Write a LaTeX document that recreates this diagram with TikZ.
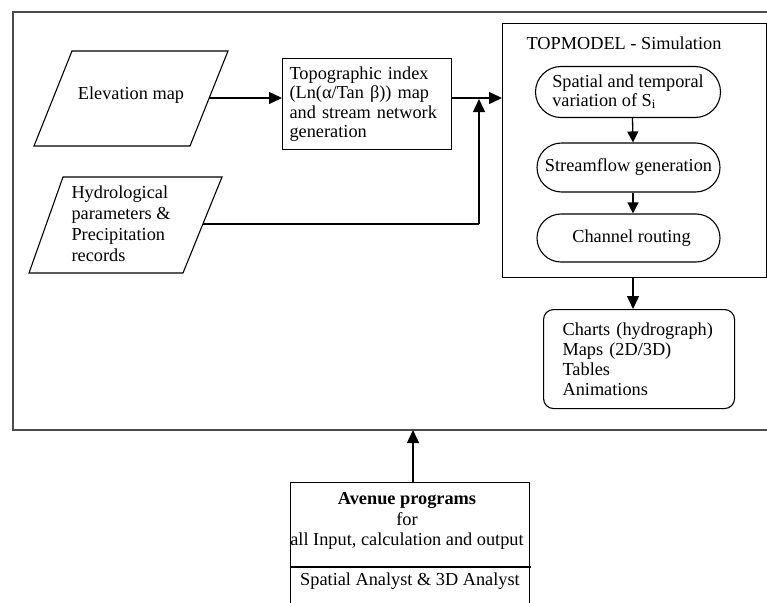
\documentclass[tikz,border=0pt]{standalone}
\usepackage{fontspec}
\setmainfont{Liberation Serif}
\usetikzlibrary{arrows.meta,shapes.misc,calc}
\begin{document}
\begin{tikzpicture}[x=1pt,y=-1pt,
  font=\fontsize{18.3}{18.5}\selectfont,
  framestyle/.style={draw=black!70, line width=1.6pt},
  box/.style={draw, line width=1.1pt},
  stad/.style={draw, line width=1.1pt, rounded rectangle, inner sep=0pt, align=left},
  conn/.style={line width=1.4pt, -{Triangle[length=13pt,width=12pt]}},
  sconn/.style={line width=1.3pt, -{Triangle[length=11pt,width=11pt]}},
  plain/.style={line width=1.4pt}]
\useasboundingbox (0,0) rectangle (767,602);
\clip (0,0) rectangle (767,602);

% outer frame (open at the right)
\coordinate (fTR) at (767,12);
\coordinate (fTL) at (13,12);
\coordinate (fBL) at (13,430);
\coordinate (fBR) at (767,430);
\coordinate (fB) at (413,430);
\draw[framestyle] (fTR) -- (fTL) -- (fBL) -- (fBR);

% Elevation map parallelogram
\coordinate (e1) at (72,51);
\coordinate (e2) at (228,51);
\coordinate (e3) at (190,146);
\coordinate (e4) at (34,146);
\draw[box] (e1) -- (e2) -- (e3) -- (e4) -- cycle;
\node (elev) at (131,95) {Elevation map};
\coordinate (eR) at (209,98);

% Hydrological parallelogram
\coordinate (h1) at (63,177);
\coordinate (h2) at (222,177);
\coordinate (h3) at (183,273);
\coordinate (h4) at (29,273);
\draw[box] (h1) -- (h2) -- (h3) -- (h4) -- cycle;
\node[align=left, anchor=west, font=\fontsize{18.3}{21}\selectfont] (hyd) at (68,224)
  {Hydrological\\parameters \&\\Precipitation\\records};
\coordinate (hR) at (203,224);

% Topographic index box
\node[box, anchor=north west, text width=155pt, minimum height=91pt, inner xsep=7pt, align=left,
  font=\fontsize{18.3}{19.3}\selectfont]
  (topo) at (282,58) {Topographic index\\(Ln(α/Tan β)) map\\and stream network\\generation};

% TOPMODEL box
\node[box, anchor=north west, minimum width=264pt, minimum height=254pt, inner sep=0pt]
  (tm) at (502,23) {};
\node (tmt) at (624,43) {TOPMODEL - Simulation};
\node[stad, minimum width=185pt, minimum height=51pt] (s1) at (628,92)
  {Spatial and temporal\\variation of S\textsubscript{i}};
\node[stad, minimum width=183pt, minimum height=49pt] (s2) at (628.5,167.5)
  {Streamflow generation};
\node[stad, minimum width=183pt, minimum height=48pt] (s3) at (628.5,238)
  {\hspace*{6pt}Channel routing};

% junction
\coordinate (j) at (479,98);

% outputs
\node[box, rounded corners=10pt, anchor=north west, minimum width=191pt, minimum height=99pt,
  text width=153pt, inner xsep=19pt, align=left, font=\fontsize{18.3}{20}\selectfont]
  (out) at (543,309) {Charts (hydrograph)\\Maps (2D/3D)\\Tables\\Animations};

% Avenue box
\node[box, anchor=north west, minimum width=239pt, minimum height=160pt, inner sep=0pt]
  (av) at (290,482) {};
\coordinate (dL) at (290,567);
\coordinate (dR) at (531,567);
\draw[box] (dL) -- (dR);
\node[align=center, font=\fontsize{18.3}{20.5}\selectfont] (avt) at (407,521)
  {\textbf{Avenue programs}\\for\\all Input, calculation and output};
\node (avs) at (410,581) {Spatial Analyst \& 3D Analyst};

% connectors
\draw[conn] (eR) -- (topo.west |- eR);
\draw[conn] (topo.east |- j) -- (tm.west |- j);
\draw[plain] (hR) -- (hR -| j);
\draw[conn] (hR -| j) -- ([yshift=-1pt]j);
\draw[sconn] ([xshift=4.5pt]s1.south) -- ([xshift=4.5pt]s2.north);
\draw[sconn] ([xshift=4.5pt]s2.south) -- ([xshift=4.5pt]s3.north);
\draw[conn] (tm.south -| s3.south) ++(4.5,0) coordinate (tmb) -- (tmb |- out.north);
\draw[conn] (av.north -| fB) -- (fB);
\end{tikzpicture}
\end{document}
